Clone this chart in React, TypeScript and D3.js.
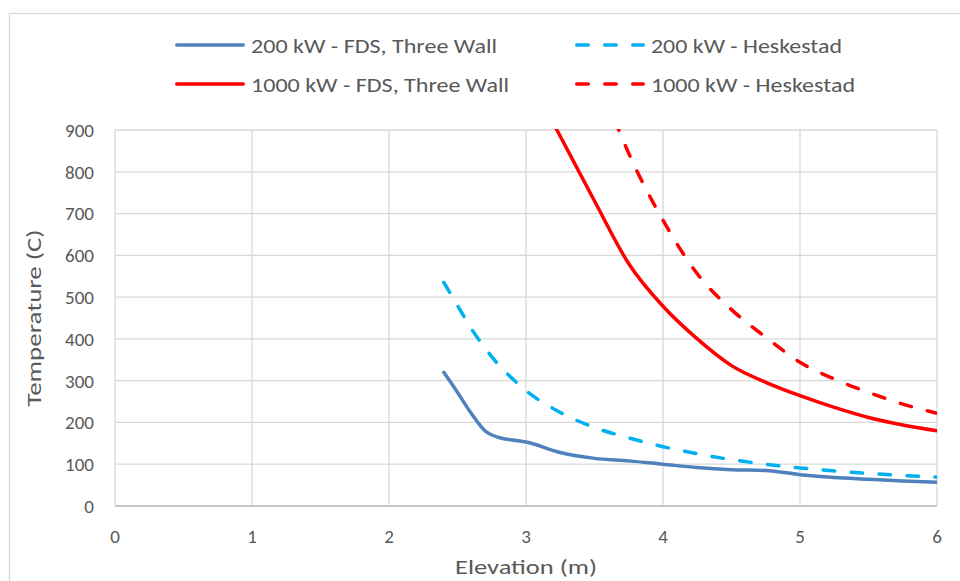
import React from 'react';
import * as d3 from 'd3';

const W = 960;
const H = 581;
const margin = { left: 115, right: 23, top: 130, bottom: 75 };

// elevations (m) and temperatures (C)
const elev200 = [2.4, 2.5, 2.6, 2.7, 2.8, 2.9, 3.0, 3.25, 3.5, 3.75, 4.0, 4.25, 4.5, 4.75, 5.0, 5.25, 5.5, 5.75, 6.0];
const fds200 = [320, 272, 222, 180, 164, 158, 153, 128, 114, 108, 100, 92, 87, 85, 75, 68, 64, 60, 57];
const hesk200 = [535, 480, 425, 378, 338, 305, 276, 224, 188, 163, 142, 125, 111, 100, 91, 84, 78, 73, 69];

const elevFds1000 = [3.0, 3.25, 3.5, 3.75, 4.0, 4.25, 4.5, 4.75, 5.0, 5.25, 5.5, 5.75, 6.0];
const fds1000 = [1040, 885, 730, 580, 478, 400, 336, 296, 264, 236, 212, 194, 180];

const elevHesk1000 = [3.5, 3.75, 4.0, 4.25, 4.5, 4.75, 5.0, 5.25, 5.5, 5.75, 6.0];
const hesk1000 = [1050, 844, 684, 556, 470, 404, 344, 304, 272, 244, 222];

const xTicks = [0, 1, 2, 3, 4, 5, 6];
const yTicks = [0, 100, 200, 300, 400, 500, 600, 700, 800, 900];

const seriesNames = ['200 kW - FDS, Three Wall', '200 kW - Heskestad', '1000 kW - FDS, Three Wall', '1000 kW - Heskestad'];

const font = "Carlito, Lato, 'Open Sans', sans-serif";
const textColor = '#595959';
const dash = '11.5,16.5';

type S = { name: string; xs: number[]; ys: number[]; color: string; dashed: boolean };

const series: S[] = [
  { name: seriesNames[0], xs: elev200, ys: fds200, color: '#4F81BD', dashed: false },
  { name: seriesNames[1], xs: elev200, ys: hesk200, color: '#00B0F0', dashed: true },
  { name: seriesNames[2], xs: elevFds1000, ys: fds1000, color: '#FF0000', dashed: false },
  { name: seriesNames[3], xs: elevHesk1000, ys: hesk1000, color: '#FF0000', dashed: true },
];

export default function App() {
  const x = d3.scaleLinear().domain([0, 6]).range([margin.left, W - margin.right]);
  const y = d3.scaleLinear().domain([0, 900]).range([H - margin.bottom, margin.top]);

  const line = d3
    .line<[number, number]>()
    .x(d => x(d[0]))
    .y(d => y(d[1]))
    .curve(d3.curveMonotoneX);

  // legend placement, text widths
  const legendPos = [
    { lx: 175, ly: 45, tl: 246 },
    { lx: 575, ly: 45, tl: 191 },
    { lx: 175, ly: 84, tl: 258 },
    { lx: 575, ly: 84, tl: 204 },
  ];

  return (
    <svg width={W} height={H} style={{ position: 'absolute', left: 0, top: 0, background: '#fff' }} fontFamily={font}>
      <rect x={9.5} y={13.5} width={W} height={H} fill="#fff" stroke="#D9D9D9" strokeWidth={1.3} />
      <defs>
        <clipPath id="plot">
          <rect x={margin.left} y={margin.top - 1} width={W - margin.left - margin.right} height={H - margin.top - margin.bottom + 1} />
        </clipPath>
      </defs>

      {/* grid */}
      {yTicks.map(t => (
        <line key={'gy' + t} x1={x(0)} x2={x(6)} y1={y(t)} y2={y(t)} stroke="#D9D9D9" strokeWidth={1.3} />
      ))}
      {xTicks.map(t => (
        <line key={'gx' + t} x1={x(t)} x2={x(t)} y1={y(0)} y2={y(900)} stroke="#D9D9D9" strokeWidth={1.3} />
      ))}
      <line x1={x(0)} x2={x(6)} y1={y(0)} y2={y(0)} stroke="#BFBFBF" strokeWidth={1.3} />

      {/* tick labels */}
      {yTicks.map(t => (
        <text key={'ty' + t} x={94} y={y(t)} dy="0.36em" textAnchor="end" fontSize={19} fill={textColor}>
          {t}
        </text>
      ))}
      {xTicks.map(t => (
        <text key={'tx' + t} x={x(t)} y={543} textAnchor="middle" fontSize={19} fill={textColor}>
          {t}
        </text>
      ))}

      {/* axis titles */}
      <text x={526} y={574} textAnchor="middle" fontSize={21} fill={textColor} textLength={142} lengthAdjust="spacingAndGlyphs">
        Elevation (m)
      </text>
      <text
        transform="translate(41,318) rotate(-90)"
        textAnchor="middle"
        fontSize={21}
        fill={textColor}
        textLength={177}
        lengthAdjust="spacingAndGlyphs"
      >
        Temperature (C)
      </text>

      {/* series */}
      <g clipPath="url(#plot)">
        {series.map(s => (
          <path
            key={s.name}
            d={line(s.xs.map((v, i) => [v, s.ys[i]] as [number, number])) || ''}
            fill="none"
            stroke={s.color}
            strokeWidth={3.5}
            strokeDasharray={s.dashed ? dash : undefined}
            strokeLinecap="round"
            strokeLinejoin="round"
          />
        ))}
      </g>

      {/* legend */}
      {series.map((s, i) => (
        <g key={'lg' + i} transform={`translate(${legendPos[i].lx},${legendPos[i].ly})`}>
          <line
            x1={1.75}
            x2={68.25}
            y1={0}
            y2={0}
            stroke={s.color}
            strokeWidth={3.5}
            strokeDasharray={s.dashed ? dash : undefined}
            strokeLinecap="round"
          />
          <text
            x={76}
            y={0}
            dy="0.36em"
            fontSize={21}
            fill={textColor}
            textLength={legendPos[i].tl}
            lengthAdjust="spacingAndGlyphs"
          >
            {s.name}
          </text>
        </g>
      ))}
    </svg>
  );
}
